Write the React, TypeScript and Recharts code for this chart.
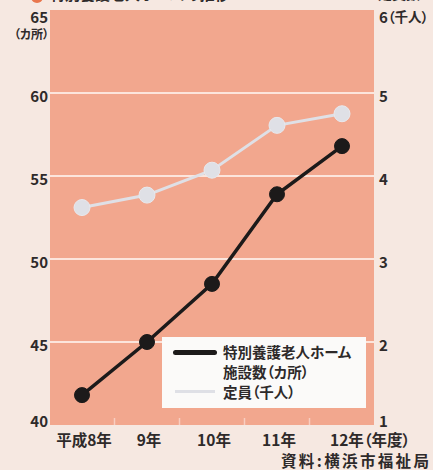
import React from "react";
import { CartesianGrid, Legend, Line, LineChart, XAxis, YAxis } from "recharts";

const years = ["平成8年", "9年", "10年", "11年", "12年"];
const facilities = [41.8, 45, 48.5, 53.9, 56.8]; // 施設数（カ所）
const capacity = [3.62, 3.77, 4.07, 4.61, 4.75]; // 定員（千人）
const leftTicks = [40, 45, 50, 55, 60, 65];
const rightTicks = [1, 2, 3, 4, 5, 6];
const gridValues = [45, 50, 55, 60];

const rows = years.map((year, i) => ({ year, facilities: facilities[i], capacity: capacity[i] }));

const FONT = '"Noto Sans CJK JP", "Noto Sans", sans-serif';
const INK = "#2e2a2a";
const PAGE_BG = "#f6e8e1";
const PLOT_BG = "#f2a78e";
const BLACK = "#1c1a1a";
const GRAY = "#dfe0e6";
const textStyle: React.CSSProperties = { fontFeatureSettings: '"palt"' };

// keeps the top and bottom labels inside the plot band
function labelShift(isTop: boolean, isBottom: boolean) {
  if (isTop) return 6;
  if (isBottom) return -5;
  return 2;
}

function LeftTick({ x, y, payload }: any) {
  const top = payload.value === 65;
  return (
    <g>
      <text x={x - 2} y={y + labelShift(top, payload.value === 40)} textAnchor="end" dominantBaseline="central" fontFamily={FONT} fontSize={15} fontWeight={700} fill={INK}>
        {payload.value}
      </text>
      {top && (
        <text x={x - 1} y={y + 23.5} textAnchor="end" dominantBaseline="central" fontFamily={FONT} fontSize={12} fontWeight={700} fill={INK} style={textStyle}>
          （カ所）
        </text>
      )}
    </g>
  );
}

function RightTick({ x, y, payload }: any) {
  const top = payload.value === 6;
  return (
    <g>
      {top && (
        <text x={x + 4} y={y - 11} fontFamily={FONT} fontSize={14} fontWeight={700} fill={INK}>
          定員数
        </text>
      )}
      <text x={x + 5} y={y + labelShift(top, payload.value === 1)} dominantBaseline="central" fontFamily={FONT} fontSize={15} fontWeight={700} fill={INK} style={textStyle}>
        {payload.value}
        {top && <tspan fontSize={13.5}>（千人）</tspan>}
      </text>
    </g>
  );
}

function YearTick({ x, y, payload, index }: any) {
  const last = index === years.length - 1;
  return (
    <g>
      {index > 0 && <line x1={x - 32.5} x2={x - 32.5} y1={y} y2={y - 7} stroke="#fff" strokeOpacity={0.45} strokeWidth={1.5} />}
      <text
        x={last ? x - 12 : x + 2}
        y={y + 21}
        textAnchor={last ? "start" : "middle"}
        fontFamily={FONT}
        fontSize={15.5}
        fontWeight={700}
        fill={INK}
        style={textStyle}
      >
        {last ? `${payload.value}（年度）` : payload.value}
      </text>
    </g>
  );
}

function LegendBox() {
  const label: React.CSSProperties = {
    position: "absolute",
    left: 61,
    fontFamily: FONT,
    fontSize: 14.5,
    fontWeight: 700,
    color: INK,
    lineHeight: "20px",
    whiteSpace: "nowrap",
    fontFeatureSettings: '"palt"',
  };
  return (
    <div style={{ position: "relative", width: 204, height: 71, background: "#fbfaf9" }}>
      <div style={{ position: "absolute", left: 11, top: 13, width: 44, height: 5, borderRadius: 3, background: BLACK }} />
      <div style={{ ...label, top: 5 }}>特別養護老人ホーム</div>
      <div style={{ ...label, top: 25 }}>施設数（カ所）</div>
      <div style={{ position: "absolute", left: 13, top: 53, width: 40, height: 3, background: GRAY }} />
      <div style={{ ...label, top: 45 }}>定員（千人）</div>
    </div>
  );
}

export default function App() {
  return (
    <div style={{ position: "absolute", left: 0, top: 0, width: 433, height: 470, background: PAGE_BG, overflow: "hidden" }}>
      <LineChart width={433} height={470} data={rows} margin={{ top: 10, right: 0, bottom: 0, left: 0 }}>
        <CartesianGrid
          yAxisId="left"
          vertical={false}
          horizontalValues={gridValues}
          fill={PLOT_BG}
          fillOpacity={1}
          stroke="#fffaf6"
          strokeWidth={1.6}
        />
        <XAxis
          dataKey="year"
          type="category"
          padding={{ left: 32, right: 32 }}
          axisLine={false}
          tickLine={false}
          tickSize={0}
          tickMargin={0}
          height={45}
          interval={0}
          tick={<YearTick />}
        />
        <YAxis
          yAxisId="left"
          domain={[40, 65]}
          ticks={leftTicks}
          axisLine={false}
          tickLine={false}
          tickSize={0}
          tickMargin={0}
          width={50}
          tick={<LeftTick />}
        />
        <YAxis
          yAxisId="right"
          orientation="right"
          domain={[1, 6]}
          ticks={rightTicks}
          axisLine={false}
          tickLine={false}
          tickSize={0}
          tickMargin={0}
          width={59}
          tick={<RightTick />}
        />
        <Legend
          layout="horizontal"
          verticalAlign="middle"
          align="center"
          content={<LegendBox />}
          wrapperStyle={{ position: "absolute", left: 162, top: 337, width: 204, height: 71 }}
        />
        <Line
          yAxisId="right"
          dataKey="capacity"
          stroke={GRAY}
          strokeWidth={3}
          dot={{ r: 8, fill: GRAY, stroke: "#e8e9ee", strokeWidth: 1 }}
          isAnimationActive={false}
        />
        <Line
          yAxisId="left"
          dataKey="facilities"
          stroke={BLACK}
          strokeWidth={3.5}
          dot={{ r: 7.5, fill: BLACK, stroke: BLACK, strokeWidth: 1 }}
          isAnimationActive={false}
        />
      </LineChart>
      <svg width={433} height={470} style={{ position: "absolute", left: 0, top: 0, pointerEvents: "none" }}>
        <circle cx={37} cy={-3} r={6} fill="#e9764d" />
        <text x={50} y={0} fontFamily={FONT} fontSize={15} fontWeight={700} fill={INK}>
          特別養護老人ホームの推移
        </text>
        <text x={281} y={467} fontFamily={FONT} fontSize={15.5} fontWeight={700} fill={INK} textLength={148} lengthAdjust="spacing">
          資料:横浜市福祉局
        </text>
      </svg>
    </div>
  );
}
